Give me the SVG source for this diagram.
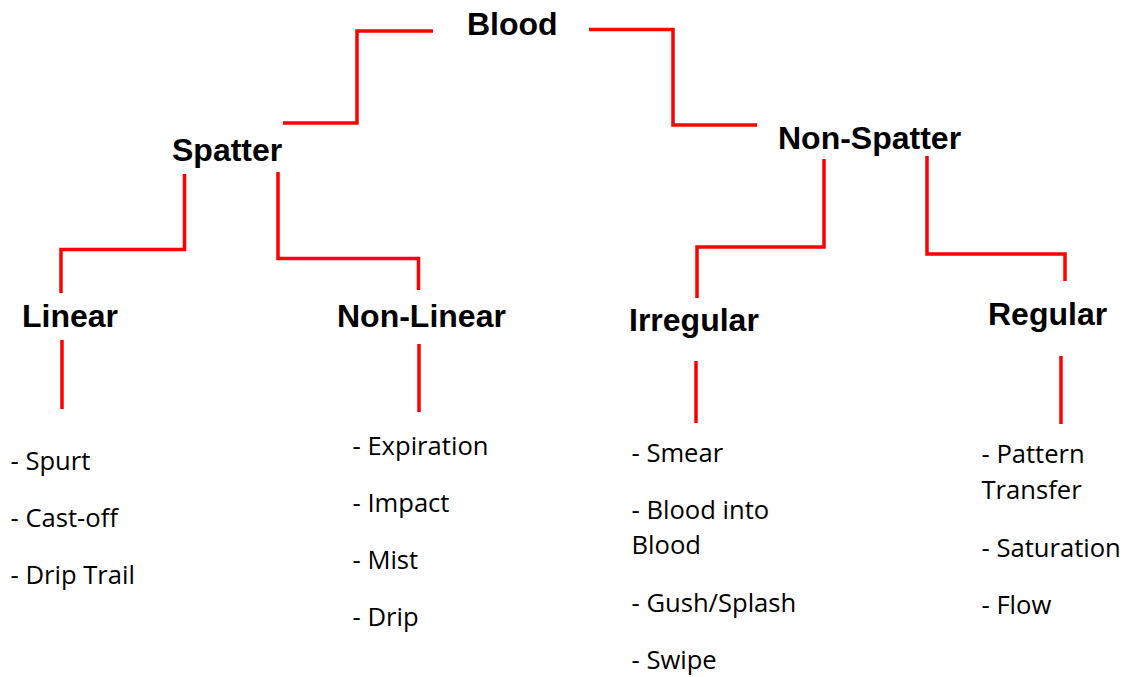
<svg xmlns="http://www.w3.org/2000/svg" width="1127" height="677" viewBox="0 0 1127 677">
  <style>
    .head { font-family: "Liberation Sans", Arial, sans-serif; font-weight: bold; font-size: 32px; fill: #000; }
    .item { font-family: "Open Sans", "Noto Sans", sans-serif; font-size: 25.6px; fill: #000; }
    .link { fill: none; stroke: #ff0000; stroke-width: 3.5; stroke-linecap: butt; stroke-linejoin: miter; }
  </style>
  <rect width="1127" height="677" fill="#ffffff"/>

  <!-- elbow connectors between the category labels -->
  <g id="connectors">
    <path class="link" d="M433,31 H357 V123 H283"/>
    <path class="link" d="M589,29.5 H673 V125 H757"/>
    <path class="link" d="M184.5,174 V249.5 H61 V293"/>
    <path class="link" d="M278,172 V258.5 H418.5 V290"/>
    <path class="link" d="M824,159 V247 H697 V298"/>
    <path class="link" d="M927,156 V254 H1065 V281"/>
    <path class="link" d="M62,340 V409"/>
    <path class="link" d="M419,344 V412"/>
    <path class="link" d="M696,361 V423"/>
    <path class="link" d="M1061,356 V424"/>
  </g>

  <g id="blood">
    <text class="head" x="467" y="35">Blood</text>
  </g>
  <g id="spatter">
    <text class="head" x="172" y="161">Spatter</text>
  </g>
  <g id="non-spatter">
    <text class="head" x="778" y="149">Non-Spatter</text>
  </g>
  <g id="linear">
    <text class="head" x="22" y="327">Linear</text>
  </g>
  <g id="non-linear">
    <text class="head" x="337" y="327">Non-Linear</text>
  </g>
  <g id="irregular">
    <text class="head" x="629" y="331">Irregular</text>
  </g>
  <g id="regular">
    <text class="head" x="988" y="325">Regular</text>
  </g>

  <!-- pattern lists under each leaf category -->
  <g id="linear-list">
    <text class="item" x="10.5" y="470">- Spurt</text>
    <text class="item" x="10.5" y="527">- Cast-off</text>
    <text class="item" x="10.5" y="584">- Drip Trail</text>
  </g>
  <g id="non-linear-list">
    <text class="item" x="352.5" y="455">- Expiration</text>
    <text class="item" x="352.5" y="512">- Impact</text>
    <text class="item" x="352.5" y="569">- Mist</text>
    <text class="item" x="352.5" y="626">- Drip</text>
  </g>
  <g id="irregular-list">
    <text class="item" x="631.5" y="462">- Smear</text>
    <text class="item" x="631.5" y="519">- Blood into</text>
    <text class="item" x="631.5" y="554">Blood</text>
    <text class="item" x="631.5" y="612">- Gush/Splash</text>
    <text class="item" x="631.5" y="669">- Swipe</text>
  </g>
  <g id="regular-list">
    <text class="item" x="981.5" y="463">- Pattern</text>
    <text class="item" x="981.5" y="499">Transfer</text>
    <text class="item" x="981.5" y="557">- Saturation</text>
    <text class="item" x="981.5" y="614">- Flow</text>
  </g>
</svg>
